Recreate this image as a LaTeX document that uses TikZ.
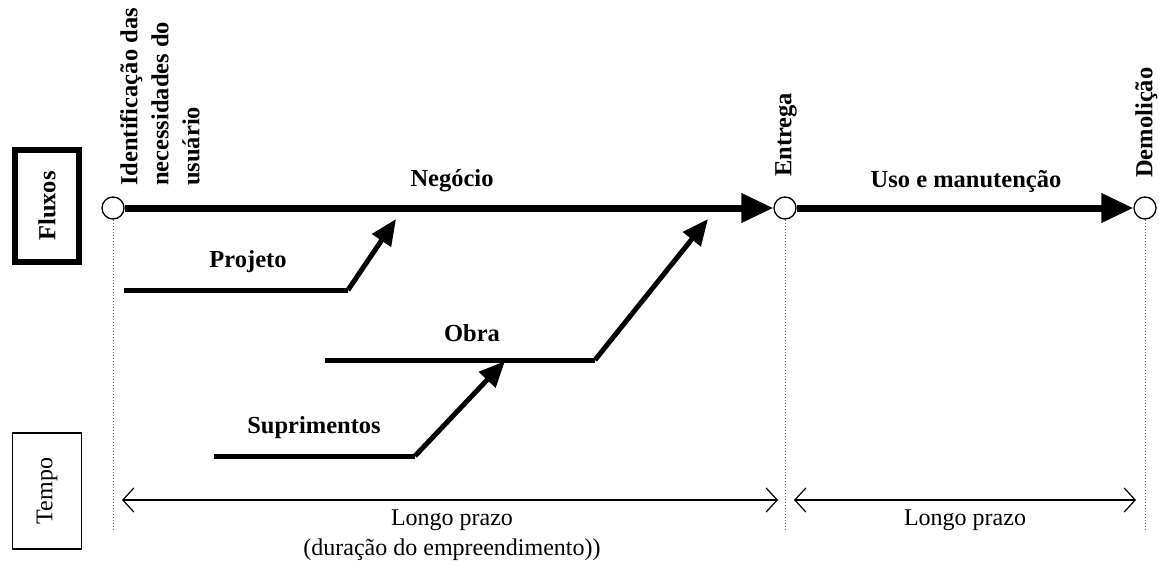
\documentclass[tikz,border=0pt]{standalone}
\usepackage{fontspec}
\setmainfont{Liberation Serif}
\usetikzlibrary{arrows.meta}

\begin{document}
\begin{tikzpicture}[x=1pt,y=-1pt,
  milestone/.style={circle,draw,line width=1.3pt,fill=white,minimum size=22pt,inner sep=0pt},
  flow/.style={line width=7pt,-{Triangle[length=32pt,width=28pt]}},
  task/.style={line width=5pt},
  feed/.style={line width=5pt,-{Triangle[length=26pt,width=22pt]}},
  span/.style={line width=1.2pt,{Straight Barb[length=11pt,width=24pt]}-{Straight Barb[length=11pt,width=24pt]}},
  guide/.style={dotted,line width=1pt,gray!80!black},
  lbl/.style={font=\fontsize{24.5}{31}\selectfont\bfseries},
  txt/.style={font=\fontsize{24}{30}\selectfont},
  vlbl/.style={lbl,rotate=90,anchor=north west,align=left,inner sep=0pt}]
\useasboundingbox (0,0) rectangle (1159,563);
% side boxes
\node[lbl,draw,line width=6pt,rotate=90,minimum width=112pt,minimum height=64pt] (fluxos) at (47,206) {Fluxos};
\node[txt,draw,line width=1.4pt,rotate=90,minimum width=116pt,minimum height=69pt] (tempo) at (47,491) {Tempo};
% milestones
\node[milestone] (ident) at (113,208) {};
\node[milestone] (entrega) at (785,208) {};
\node[milestone] (demol) at (1145,208) {};
\node[vlbl] (identlbl) at (120,186) {Identificação das\\necessidades do\\usuário};
\node[vlbl] (entregalbl) at (775,177) {Entrega};
\node[vlbl] (demollbl) at (1135,178) {Demolição};
\coordinate (identend) at (113,530);
\coordinate (entregaend) at (785,530);
\coordinate (demolend) at (1145,530);
\draw[guide] (ident) -- (identend);
\draw[guide] (entrega) -- (entregaend);
\draw[guide] (demol) -- (demolend);
% main flows
\draw[flow] (ident) -- (entrega);
\draw[flow] (entrega) -- (demol);
\node[lbl] (negocio) at (452,181) {Negócio};
\node[lbl] (uso) at (966,181) {Uso e manutenção};
% projeto
\coordinate (projA) at (124,290);
\coordinate (projB) at (348,290);
\coordinate (projC) at (396,219);
\draw[task] (projA) -- (projB);
\draw[feed] (projB) -- (projC);
\node[lbl] (projeto) at (248,262) {Projeto};
% obra
\coordinate (obraA) at (325,360);
\coordinate (obraB) at (595,360);
\coordinate (obraC) at (708,219);
\draw[task] (obraA) -- (obraB);
\draw[feed] (obraB) -- (obraC);
\node[lbl] (obra) at (472,333) {Obra};
% suprimentos
\coordinate (supA) at (214,456);
\coordinate (supB) at (415,456);
\coordinate (supC) at (505,361);
\draw[task] (supA) -- (supB);
\draw[feed] (supB) -- (supC);
\node[lbl] (suprimentos) at (314,428) {Suprimentos};
% prazos
\coordinate (prazoA) at (122,500);
\coordinate (prazoB) at (778,500);
\coordinate (prazoC) at (794,500);
\coordinate (prazoD) at (1136,500);
\draw[span] (prazoA) -- (prazoB);
\draw[span] (prazoC) -- (prazoD);
\node[txt,align=center] (prazo1) at (452,535) {Longo prazo\\(duração do empreendimento))};
\node[txt] (prazo2) at (965,520) {Longo prazo};
\end{tikzpicture}
\end{document}
